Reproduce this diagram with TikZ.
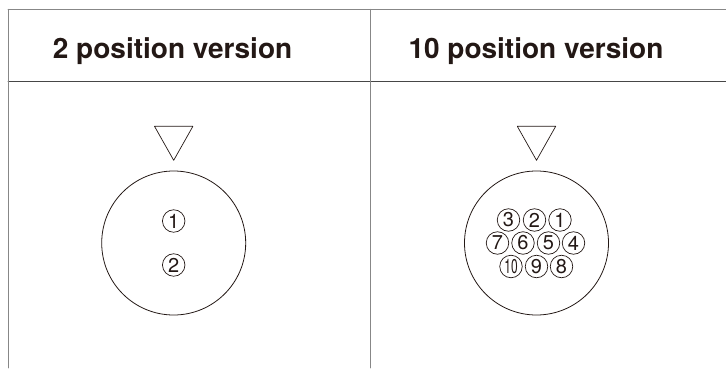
\documentclass[tikz,border=0pt]{standalone}
\usepackage{fontspec}
\newfontfamily\heros{TeX Gyre Heros}
\usetikzlibrary{positioning}
\definecolor{inkblk}{RGB}{35,24,21}
\definecolor{rulegray}{RGB}{135,135,135}
\definecolor{ruledark}{RGB}{70,70,70}
\tikzset{
  plug/.style={circle,draw=inkblk,line width=0.8pt,minimum size=144pt,inner sep=0pt},
  pin/.style={circle,draw=inkblk,line width=0.7pt,minimum size=22.5pt,inner sep=0pt,text=inkblk,font=\heros\fontsize{20}{20}\selectfont},
  hdr/.style={anchor=base west,inner sep=0pt,text=inkblk,font=\heros\bfseries\fontsize{28}{28}\selectfont},
}
\begin{document}
\begin{tikzpicture}[line cap=round,line join=round,x=1pt,y=1pt]
\useasboundingbox (0,0) rectangle (726,368);
\draw [color=rulegray,line width=0.9pt] (8,358.7) -- (726,358.7);
\draw [color=ruledark,line width=0.9pt] (8,287) -- (726,287);
\draw [color=rulegray,line width=0.9pt] (8,358.7) -- (8,0);
\draw [color=rulegray,line width=0.9pt] (370,358.7) -- (370,0);
\node[hdr] (hdrA) at (52.7,309.5) {2 position version};
\node[hdr] (hdrB) at (408.3,309.5) {10 position version};
\node[plug] (plugA) at (173.7,125) {};
\node[plug] (plugB) at (536.5,125) {};
\foreach \p in {plugA,plugB}
\draw[draw=inkblk,line width=0.7pt] ([shift={(-19.2,44.3)}]\p.north) -- ([shift={(19.2,44.3)}]\p.north) -- ([shift={(0,10.3)}]\p.north) -- cycle;
\foreach \n/\dy in {1/22,2/-22}
\node[pin] (a\n) at ([shift={(0,\dy)}]plugA.center) {\n};
\foreach \n/\dx/\dy in {1/23.5/23,2/-2/23,3/-28/23,4/37/0,5/12/0,6/-13.5/0,7/-39/0,8/25/-23.5,9/0/-23.5}
\node[pin] (b\n) at ([shift={(\dx,\dy)}]plugB.center) {\n};
\node[pin] (b10) at ([shift={(-25.5,-23.5)}]plugB.center) {\scalebox{0.6}[1]{10}};
\end{tikzpicture}
\end{document}
